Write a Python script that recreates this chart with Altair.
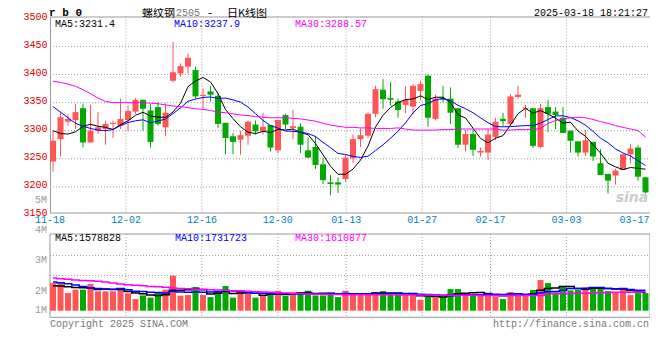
import altair as alt
import pandas as pd

# ---------------- data ----------------
opens = [3245,3285,3316,3319,3340,3279,3300,3303,3312,3309,
         3319,3334,3355,3336,3342,3306,3389,3402,3414,3408,
         3362,3370,3362,3314,3290,3284,3291,3311,3299,3310,
         3265,3328,3305,3307,3265,3271,3240,3208,3208,3214,
         3251,3285,3291,3330,3373,3358,3352,3346,3343,3371,
         3398,3321,3357,3357,3340,3275,3294,3261,3261,3289,
         3321,3312,3360,3339,3340,3271,3342,3334,3323,3300,
         3281,3261,3280,3242,3223,3220,3230,3258,3270,3217]
highs = [3300,3333,3330,3348,3348,3346,3333,3318,3318,3357,
         3345,3358,3355,3348,3351,3349,3458,3420,3438,3414,
         3375,3380,3365,3314,3296,3300,3318,3318,3332,3310,
         3319,3330,3337,3313,3288,3291,3251,3221,3217,3257,
         3293,3304,3333,3380,3392,3386,3357,3379,3383,3389,
         3400,3364,3380,3377,3340,3301,3301,3270,3303,3323,
         3332,3365,3380,3346,3340,3348,3355,3342,3342,3300,
         3281,3301,3280,3267,3223,3232,3258,3276,3274,3218]
lows = [3227,3254,3309,3303,3270,3279,3294,3275,3287,3303,
        3299,3330,3300,3270,3309,3290,3386,3396,3402,3357,
        3340,3352,3305,3258,3258,3257,3275,3293,3293,3263,
        3260,3303,3285,3260,3251,3232,3205,3185,3189,3209,
        3242,3271,3287,3324,3339,3345,3323,3331,3330,3354,
        3307,3318,3351,3312,3269,3263,3255,3254,3248,3283,
        3309,3309,3357,3323,3269,3269,3297,3303,3296,3261,
        3254,3255,3246,3221,3188,3204,3229,3242,3211,3188]
closes = [3282,3324,3321,3333,3279,3300,3306,3312,3314,3321,
          3335,3355,3339,3280,3312,3332,3404,3415,3430,3361,
          3364,3364,3312,3287,3280,3292,3316,3299,3307,3270,
          3319,3311,3308,3275,3252,3239,3212,3205,3204,3252,
          3285,3292,3330,3374,3356,3355,3337,3355,3380,3383,
          3323,3357,3355,3332,3275,3294,3266,3264,3293,3316,
          3317,3361,3364,3341,3273,3340,3330,3328,3296,3282,
          3261,3283,3254,3221,3211,3229,3258,3268,3218,3190]

ma5 = [3300,3295,3294,3298,3307.8,3311.4,3307.8,3306.0,3302.2,3310.6,
       3317.6,3327.4,3332.8,3326.0,3324.2,3323.6,3333.4,3348.6,3378.6,3388.4,
       3394.8,3386.8,3366.2,3337.6,3321.4,3307.0,3297.4,3294.8,3298.8,3296.8,
       3302.2,3301.2,3303.0,3296.6,3293.0,3277.0,3257.2,3236.6,3222.4,3222.4,
       3231.6,3247.6,3272.6,3306.6,3327.4,3341.4,3350.4,3355.4,3356.6,3362.0,
       3355.6,3359.6,3359.6,3350.0,3328.4,3322.6,3304.4,3286.2,3278.4,3286.6,
       3291.2,3310.2,3330.2,3339.8,3331.2,3335.8,3329.6,3322.4,3313.4,3315.2,
       3299.4,3290.0,3275.2,3260.2,3242.0,3235.6,3230.6,3234.4,3233.0,3231.4]
ma10 = [3343,3333,3323,3313,3308,3304,3301,3300,3302,3309.2,
        3314.5,3317.6,3319.4,3314.1,3317.4,3320.6,3330.4,3340.7,3352.3,3356.3,
        3359.2,3360.1,3357.4,3358.1,3354.9,3350.9,3342.1,3330.5,3318.2,3309.1,
        3304.6,3299.3,3298.9,3297.7,3294.9,3289.6,3279.2,3269.8,3259.5,3257.7,
        3254.3,3252.4,3254.6,3264.5,3274.9,3286.5,3299.0,3314.0,3331.6,3344.7,
        3348.5,3355.0,3357.5,3353.3,3345.2,3339.1,3332.0,3322.9,3314.2,3307.5,
        3306.9,3307.3,3308.2,3309.1,3308.9,3313.5,3319.9,3326.3,3326.6,3323.2,
        3317.6,3309.8,3298.8,3286.8,3278.6,3267.5,3260.3,3254.8,3246.6,3237.9]
ma30 = [3388,3386,3383,3379,3373,3366,3358,3352,3350,3350,
        3350,3350,3350,3349,3348,3346,3344,3343,3341,3339,
        3338,3336,3333,3332,3330,3328,3327,3325,3324,3323,
        3323,3323,3322,3321,3319,3317,3313,3310,3308,3306,
        3306,3305,3305,3304,3304,3304,3305,3303,3301,3301,
        3301,3301,3302,3302,3303,3303,3303,3303,3303,3303,
        3301,3301,3302,3302,3302,3304,3313,3318,3321,3323,
        3324,3323,3320,3316,3313,3309,3306,3303,3300,3288.57]

# volume, millions of lots
volume = [2.35,2.35,1.50,1.79,1.79,2.27,1.65,1.65,1.65,1.79,
          1.48,0.99,1.30,1.11,1.59,1.79,2.98,1.28,1.33,2.01,
          1.33,1.16,1.59,2.10,1.11,1.59,1.48,1.11,1.30,1.48,
          1.70,1.25,1.48,1.59,1.70,1.30,1.30,1.50,1.16,1.70,
          1.36,1.36,1.50,1.59,1.67,1.36,1.36,1.36,1.36,0.94,
          1.22,1.13,1.22,1.84,1.84,1.36,1.36,1.36,1.42,1.22,
          0.99,1.59,1.36,1.42,1.76,2.61,2.35,1.56,2.01,1.73,
          1.76,2.01,2.01,2.01,1.67,1.59,1.93,1.33,1.50,1.50]
vol_ma5 = [2.13,2.10,2.04,1.98,1.96,1.94,1.80,1.83,1.80,1.80,
           1.64,1.51,1.44,1.33,1.29,1.36,1.75,1.75,1.79,1.88,
           1.79,1.42,1.49,1.64,1.46,1.51,1.57,1.48,1.32,1.39,
           1.41,1.37,1.44,1.50,1.54,1.46,1.48,1.48,1.40,1.40,
           1.41,1.42,1.42,1.50,1.50,1.50,1.50,1.47,1.42,1.28,
           1.25,1.20,1.17,1.27,1.45,1.48,1.53,1.55,1.47,1.34,
           1.27,1.32,1.32,1.32,1.42,1.75,1.90,1.94,2.06,2.05,
           1.88,1.82,1.91,1.91,1.90,1.86,1.84,1.71,1.61,1.58]
vol_ma10 = [2.44,2.38,2.30,2.18,2.07,1.96,1.90,1.84,1.82,1.88,
            1.79,1.65,1.63,1.57,1.55,1.50,1.63,1.59,1.56,1.59,
            1.57,1.59,1.62,1.72,1.67,1.65,1.50,1.48,1.48,1.42,
            1.46,1.47,1.46,1.41,1.47,1.44,1.42,1.46,1.45,1.47,
            1.44,1.45,1.45,1.45,1.45,1.45,1.46,1.44,1.46,1.39,
            1.37,1.35,1.32,1.35,1.36,1.36,1.36,1.36,1.37,1.40,
            1.38,1.42,1.44,1.39,1.38,1.51,1.61,1.63,1.74,1.90,
            1.89,1.88,1.98,1.98,1.89,1.84,1.88,1.81,1.75,1.73]
vol_ma30 = [2.78,2.72,2.67,2.61,2.58,2.55,2.50,2.44,2.35,2.27,
            2.21,2.16,2.13,2.07,2.04,1.99,1.93,1.90,1.87,1.84,
            1.82,1.79,1.76,1.73,1.70,1.67,1.65,1.62,1.59,1.56,
            1.53,1.50,1.48,1.45,1.42,1.40,1.39,1.38,1.37,1.36,
            1.36,1.36,1.36,1.35,1.35,1.35,1.35,1.34,1.34,1.34,
            1.33,1.33,1.32,1.32,1.31,1.31,1.31,1.30,1.30,1.30,
            1.30,1.30,1.30,1.30,1.30,1.30,1.44,1.45,1.46,1.47,
            1.48,1.49,1.51,1.53,1.55,1.56,1.57,1.58,1.60,1.61]

date_labels = ["11-18", "12-02", "12-16", "12-30", "01-13", "01-27", "02-17", "03-03", "03-17"]
date_label_idx = [0, 10, 20, 30, 39, 49, 58, 68, 78]
grid_idx = [10, 20, 30, 39, 49, 58, 68]
price_ticks = [3150, 3200, 3250, 3300, 3350, 3400, 3450, 3500]
price_grid = [3200, 3250, 3300, 3350, 3400, 3450]
vol_grid = [3.0, 4.7]
vol_tick_labels = ["5M", "4M", "3M", "2M", "1M"]
vol_tick_values = [9.42, 6.87, 4.31, 1.68, 0.02]
ma_names = ["MA5", "MA10", "MA30"]
ma_price_texts = ["MA5:3231.4", "MA10:3237.9", "MA30:3288.57"]
ma_vol_texts = ["MA5:1578828", "MA10:1731723", "MA30:1610877"]

# ---------------- styling ----------------
RED, GREEN = "#ff5555", "#00aa00"
MA_COLORS = ["#000000", "#0000ff", "#ff00ff"]
GRID = "#a0a0a0"
MONO = "Liberation Mono"
CJK = "Noto Sans CJK SC"
W, H = 600, 196
VOL_TOP, VOL_BOT = 217.5, 300.8

n = len(closes)
idx = list(range(n))
candles = pd.DataFrame({"i": idx, "open": opens, "high": highs, "low": lows,
                        "close": closes, "vol": volume})
candles["dir"] = ["up" if c >= o else "down" for o, c in zip(opens, closes)]
ma_df = pd.DataFrame({"i": idx * 3, "series": sum([[m] * n for m in ma_names], []),
                      "value": ma5 + ma10 + ma30})
vma_df = pd.DataFrame({"i": idx * 3, "series": sum([[m] * n for m in ma_names], []),
                       "value": vol_ma5 + vol_ma10 + vol_ma30})

xs_bar = alt.Scale(domain=[0, 80], range=[0, W], nice=False, zero=False)
xs_grid = alt.Scale(domain=[0, 79], range=[0, W], nice=False, zero=False)
ys_price = alt.Scale(domain=[3150, 3500], range=[198.4, 1.9], nice=False, zero=False)
ys_vol = alt.Scale(domain=[0, 10], range=[294.2, 176.7], nice=False, zero=False)
dir_color = alt.Color("dir:N", scale=alt.Scale(domain=["up", "down"], range=[RED, GREEN]), legend=None)
ma_color = alt.Color("series:N", scale=alt.Scale(domain=ma_names, range=MA_COLORS), legend=None)

base = alt.Chart(candles).transform_calculate(
    x0="datum.i", x1="datum.i + 0.8", xc="datum.i + 0.4")


def note(text, gx, gy, color="#000000", size=10, font=MONO, align="left",
         weight="normal", style="normal"):
    return alt.Chart(pd.DataFrame({"t": [text]})).mark_text(
        align=align, baseline="middle", font=font, fontSize=size,
        fontWeight=weight, fontStyle=style, color=color
    ).encode(x=alt.value(gx), y=alt.value(gy), text="t:N")


# price gridlines + price axis
price_grid_layer = alt.Chart(pd.DataFrame({"p": price_grid})).mark_rule(
    color=GRID, strokeDash=[1, 2], strokeWidth=1
).encode(
    x=alt.value(0), x2=alt.value(W),
    y=alt.Y("p:Q", scale=ys_price, axis=alt.Axis(
        values=price_ticks, title=None, grid=False, domain=False, ticks=False,
        labelColor="#dd0000", labelFont=MONO, labelFontSize=10, labelPadding=3,
        labelOffset=-2, labelOverlap=False, format="d")),
)

vgrid_main = alt.Chart(pd.DataFrame({"g": grid_idx})).mark_rule(
    color=GRID, strokeDash=[1, 2]
).encode(x=alt.X("g:Q", scale=xs_grid, axis=None), y=alt.value(0), y2=alt.value(H))

vgrid_vol = alt.Chart(pd.DataFrame({"g": grid_idx})).mark_rule(
    color=GRID, strokeDash=[1, 2]
).encode(x=alt.X("g:Q", scale=xs_grid, axis=None), y=alt.value(VOL_TOP), y2=alt.value(VOL_BOT))

hgrid_vol = alt.Chart(pd.DataFrame({"v": vol_grid})).mark_rule(
    color=GRID, strokeDash=[1, 2]
).encode(x=alt.value(0), x2=alt.value(W), y=alt.Y("v:Q", scale=ys_vol, axis=None))

vol_frame = alt.Chart(pd.DataFrame({"a": [0]})).mark_rect(
    fill=None, stroke="#999999", strokeWidth=1
).encode(x=alt.value(0), x2=alt.value(W), y=alt.value(VOL_TOP), y2=alt.value(VOL_BOT))

watermark = note("sina", 582, 181, color="#cccccc", size=14, font="DejaVu Sans",
                 align="center", weight="bold", style="italic")

wicks = base.mark_rule(strokeWidth=1).encode(
    x=alt.X("xc:Q", scale=xs_bar, axis=None),
    y=alt.Y("low:Q", scale=ys_price, axis=None), y2="high:Q", color=dir_color)

bodies = base.mark_rect().encode(
    x=alt.X("x0:Q", scale=xs_bar, axis=None), x2="x1:Q",
    y=alt.Y("open:Q", scale=ys_price, axis=None), y2="close:Q", color=dir_color)

ma_lines = alt.Chart(ma_df).transform_calculate(xc="datum.i + 0.4").mark_line(strokeWidth=1).encode(
    x=alt.X("xc:Q", scale=xs_bar, axis=None),
    y=alt.Y("value:Q", scale=ys_price, axis=None), color=ma_color)

vol_bars = base.mark_rect().encode(
    x=alt.X("x0:Q", scale=xs_bar, axis=None), x2="x1:Q",
    y=alt.Y("vol:Q", scale=ys_vol, axis=None), y2=alt.datum(0), color=dir_color)

vol_lines = alt.Chart(vma_df).transform_calculate(xc="datum.i + 0.4").mark_line(
    strokeWidth=1.5, interpolate="step").encode(
    x=alt.X("xc:Q", scale=xs_bar, axis=None),
    y=alt.Y("value:Q", scale=ys_vol, axis=None), color=ma_color)

date_df = pd.DataFrame({"g": date_label_idx, "t": date_labels})
dates_mid = alt.Chart(date_df.iloc[:-1]).mark_text(
    font=MONO, fontSize=10, color="#0080cc", align="center", baseline="middle"
).encode(x=alt.X("g:Q", scale=xs_grid, axis=None), y=alt.value(203.5), text="t:N")
dates_last = alt.Chart(date_df.iloc[-1:]).mark_text(
    font=MONO, fontSize=10, color="#0080cc", align="right", baseline="middle", dx=7
).encode(x=alt.X("g:Q", scale=xs_grid, axis=None), y=alt.value(203.5), text="t:N")

vol_labels = alt.Chart(pd.DataFrame({"v": vol_tick_values, "t": vol_tick_labels})).mark_text(
    font=MONO, fontSize=10, color="#999999", align="right", baseline="middle"
).encode(x=alt.value(-3), y=alt.Y("v:Q", scale=ys_vol, axis=None), text="t:N")

texts = [
    note("r b 0", -1, -3.2, size=11, weight="bold"),
    note("螺纹钢", 92, -2.8, size=11, font=CJK),
    note("2505", 126, -3.2, color="#777777", size=10),
    note("-", 160, -3.2, size=11, align="center"),
    note("日K线图", 177, -2.8, size=11, font=CJK),
    note("2025-03-18 18:21:27", 598, -4, size=10, align="right"),
    note(ma_price_texts[0], 5, 7.2, color=MA_COLORS[0]),
    note(ma_price_texts[1], 124, 7.2, color=MA_COLORS[1]),
    note(ma_price_texts[2], 245, 7.2, color=MA_COLORS[2]),
    note(ma_vol_texts[0], 5, 221.8, color=MA_COLORS[0]),
    note(ma_vol_texts[1], 125, 221.8, color=MA_COLORS[1]),
    note(ma_vol_texts[2], 245, 221.8, color=MA_COLORS[2]),
    note("Copyright 2025 SINA.COM", 0, 307.2, color="#777777"),
    note("http://finance.sina.com.cn", 599, 307.2, color="#777777", align="right"),
]

chart = alt.layer(
    price_grid_layer, vgrid_main, vgrid_vol, hgrid_vol, vol_frame, watermark,
    wicks, bodies, ma_lines, vol_bars, vol_lines, dates_mid, dates_last, vol_labels,
    *texts
).resolve_scale(x="independent", y="independent", color="independent").properties(
    width=W, height=H,
    padding={"left": 42, "top": 8.5, "right": 0, "bottom": 130},
    autosize=alt.AutoSizeParams(type="none"),
    background="white",
).configure_view(stroke="#999999", strokeWidth=1)

chart.save("out.html", embed_options={"renderer": "svg", "actions": False})
